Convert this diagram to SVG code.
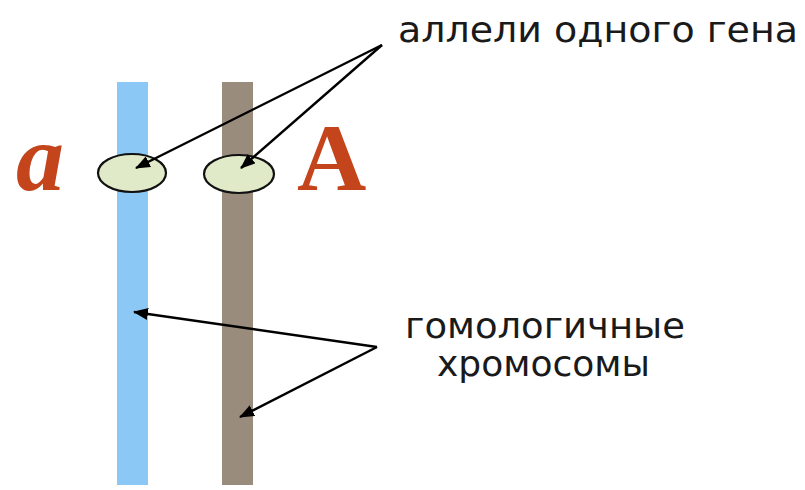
<svg xmlns="http://www.w3.org/2000/svg" width="805" height="490" viewBox="0 0 805 490">
<defs>
<marker id="ah" markerWidth="15" markerHeight="12" refX="14" refY="6" orient="auto" markerUnits="userSpaceOnUse">
<path d="M0,0 L15,6 L0,12 Z" fill="#000"/>
</marker>
<style>
.lbl{font-family:"DejaVu Sans",sans-serif;font-size:36px;fill:#1a1a1a}
.gene{font-family:"Liberation Serif",serif;font-weight:bold;fill:#c4441c}
.allele{fill:#e0e9c8;stroke:#111;stroke-width:2.2}
.con{stroke:#000;stroke-width:2.4;fill:none;marker-end:url(#ah)}
</style>
</defs>
<rect width="805" height="490" fill="#fff"/>
<g id="chrom-a"><rect x="117" y="82" width="31" height="403" fill="#8cc8f6"/></g>
<g id="chrom-A"><rect x="222" y="82" width="31" height="403" fill="#9a8c7c"/></g>
<g id="allele-a"><ellipse class="allele" cx="132" cy="173" rx="34" ry="19"/></g>
<g id="allele-A"><ellipse class="allele" cx="239" cy="174" rx="35" ry="19"/></g>
<g id="label-a"><text class="gene" x="16" y="190" font-size="96" font-style="italic">a</text></g>
<g id="label-A"><text class="gene" x="297" y="190" font-size="96">A</text></g>
<g id="label-alleles"><text class="lbl" x="398" y="42" textLength="400" lengthAdjust="spacingAndGlyphs">аллели одного гена</text></g>
<g id="label-homolog"><text class="lbl" x="405" y="338" textLength="280" lengthAdjust="spacingAndGlyphs">гомологичные</text><text class="lbl" x="437" y="376" textLength="213" lengthAdjust="spacingAndGlyphs">хромосомы</text></g>
<g id="connectors">
<line class="con" x1="382" y1="45" x2="136" y2="168"/>
<line class="con" x1="382" y1="45" x2="241" y2="168"/>
<line class="con" x1="377" y1="347" x2="134" y2="312"/>
<line class="con" x1="377" y1="347" x2="240" y2="417"/>
</g>
</svg>
